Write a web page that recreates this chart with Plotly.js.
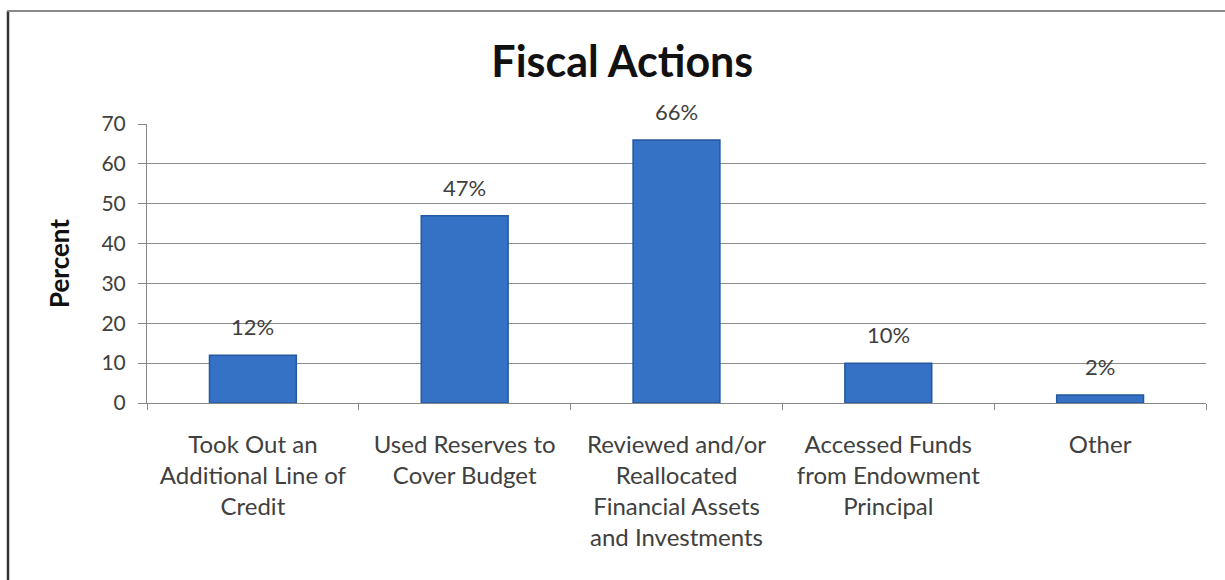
<!DOCTYPE html>
<html>
<head>
<meta charset="utf-8">
<script src="https://cdn.plot.ly/plotly-3.0.1.min.js"></script>
<style>html,body{margin:0;padding:0;background:#fff;}#chart{width:1225px;height:580px;}</style>
</head>
<body>
<div id="chart"></div>
<script>
const categories = [
  "Took Out an<br>Additional Line of<br>Credit",
  "Used Reserves to<br>Cover Budget",
  "Reviewed and/or<br>Reallocated<br>Financial Assets<br>and Investments",
  "Accessed Funds<br>from Endowment<br>Principal",
  "Other"
];
const values = [12, 47, 66, 10, 2];
const valueLabels = ["12%", "47%", "66%", "10%", "2%"];
const yTicks = [0, 10, 20, 30, 40, 50, 60, 70];

const FONT = "Lato, 'Open Sans', sans-serif";
const ML = 147, MR = 19, MT = 124, MB = 177, W = 1225, H = 580;
const PW = W - ML - MR, PH = H - MT - MB;
const px = v => (v - ML) / PW;
const py = v => (H - MB - v) / PH;

const trace = {
  type: "bar",
  x: categories,
  y: values,
  marker: {color: "#3572c6", line: {color: "#25589e", width: 1.5}},
  hoverinfo: "skip"
};

const annotations = categories.map((c, i) => ({
  x: c, y: values[i], xref: "x", yref: "y",
  text: valueLabels[i], showarrow: false,
  yanchor: "bottom", yshift: 13,
  font: {family: FONT, size: 22, color: "#404040"}
}));

const layout = {
  width: W, height: H,
  margin: {l: ML, r: MR, t: MT, b: MB, pad: 0},
  paper_bgcolor: "#ffffff", plot_bgcolor: "#ffffff",
  showlegend: false,
  bargap: 0.59,
  title: {
    text: "<b>Fiscal Actions</b>",
    font: {family: FONT, size: 43, color: "#111111"},
    x: 0.508, xref: "container", xanchor: "center",
    y: 0.893, yref: "container", yanchor: "middle"
  },
  xaxis: {
    type: "category",
    tickson: "boundaries",
    ticks: "outside", ticklen: 6, tickcolor: "#888888",
    showline: true, linecolor: "#888888", linewidth: 1,
    showgrid: false,
    tickfont: {family: FONT, size: 24, color: "#404040"},
    ticklabelstandoff: 20,
    fixedrange: true
  },
  yaxis: {
    range: [0, 70],
    tickvals: yTicks,
    ticktext: yTicks.map(String),
    ticks: "outside", ticklen: 8, tickcolor: "#888888",
    showline: true, linecolor: "#888888", linewidth: 1,
    showgrid: true, gridcolor: "#8c8c8c", gridwidth: 1,
    zeroline: false,
    tickfont: {family: FONT, size: 21, color: "#404040"},
    ticklabelstandoff: 8,
    title: {text: "<b>Percent</b>", font: {family: FONT, size: 26, color: "#111111"}, standoff: 24},
    fixedrange: true
  },
  annotations: annotations,
  shapes: [
    {type: "line", xref: "paper", yref: "paper", x0: px(8), x1: px(8), y0: py(11), y1: py(H + 5),
     line: {color: "#333333", width: 2.5}},
    {type: "line", xref: "paper", yref: "paper", x0: px(7), x1: px(W + 5), y0: py(11), y1: py(11),
     line: {color: "#8a8a8a", width: 2}}
  ]
};

Plotly.newPlot("chart", [trace], layout, {displayModeBar: false, staticPlot: true});
</script>
</body>
</html>
